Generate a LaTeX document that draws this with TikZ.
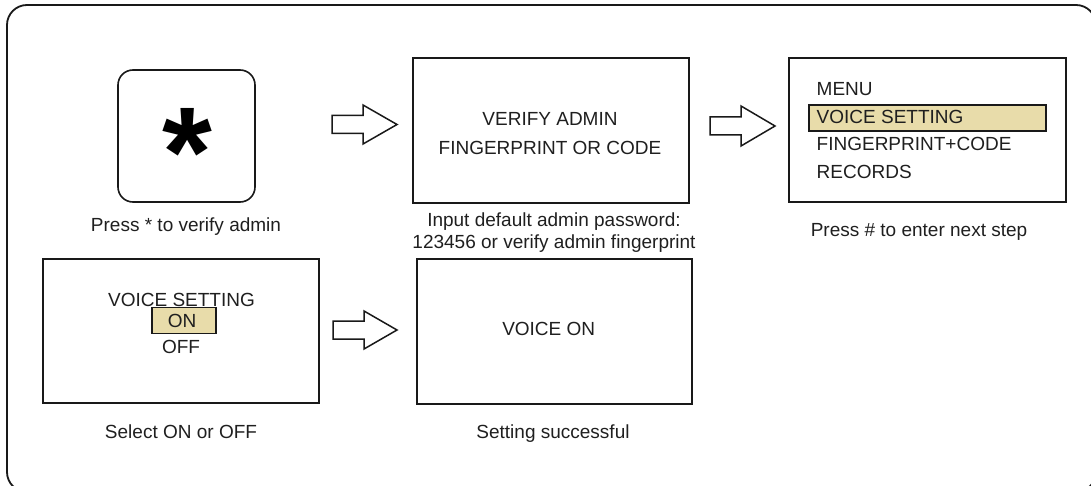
\documentclass[tikz,border=0pt]{standalone}
\usepackage{fontspec}
\setmainfont{Liberation Sans}
\begin{document}
\begin{tikzpicture}[x=1pt,y=-1pt,
  screen/.style={draw=black!90,line width=1.6pt,fill=white,inner sep=0pt},
  keybox/.style={screen,rounded corners=15pt},
  hilite/.style={draw=black!90,line width=1.5pt,fill=hlcol,inner sep=0pt},
  txt/.style={inner sep=0pt,text=black!88,font=\fontsize{19}{22}\selectfont},
  blockarrow/.style={draw=black!90,line width=1.5pt,fill=white,line join=miter}]
\definecolor{hlcol}{RGB}{232,220,170}
\useasboundingbox (0,0) rectangle (1091,486);
\clip (0,0) rectangle (1091,486);
% outer frame
\draw[line width=1.8pt,black!90,rounded corners=20pt] (7,5) rectangle (1096,492);
% boxes
\node[keybox,minimum width=137pt,minimum height=132pt] (key) at (186.5,136) {};
\node[screen,minimum width=276pt,minimum height=145pt] (verify) at (551,130.5) {};
\node[screen,minimum width=277pt,minimum height=144pt] (menu) at (927.5,130) {};
\node[screen,minimum width=276pt,minimum height=144pt] (voice) at (181,331) {};
\node[screen,minimum width=275pt,minimum height=145pt] (done) at (554.5,331.5) {};
% star key
\node[inner sep=0pt,anchor=base,text=black,font=\fontsize{128}{128}\bfseries\selectfont] (star) at (187.5,196.5) {*};
\node[txt,anchor=base] (lkey) at (186,231.7) {Press * to verify admin};
% verify screen
\node[txt,anchor=base] (v1) at (550,126) {VERIFY ADMIN};
\node[txt,anchor=base] (v2) at (550,154.3) {FINGERPRINT OR CODE};
\node[txt,anchor=base] (lv1) at (554,226.7) {Input default admin password:};
\node[txt,anchor=base] (lv2) at (554,248.5) {123456 or verify admin fingerprint};
% menu screen
\node[hilite,minimum width=237pt,minimum height=26pt] (mhl) at (927.5,118) {};
\node[txt,anchor=base west] (m1) at (816.5,96) {MENU};
\node[txt,anchor=base west] (m2) at (816.5,124) {VOICE SETTING};
\node[txt,anchor=base west] (m3) at (816.5,151) {FINGERPRINT+CODE};
\node[txt,anchor=base west] (m4) at (816.5,179) {RECORDS};
\node[txt,anchor=base] (lm) at (919,236.7) {Press \# to enter next step};
% voice setting screen
\node[hilite,minimum width=64pt,minimum height=26pt] (onhl) at (184,320.5) {};
\node[txt,anchor=base] (s1) at (181.5,306) {VOICE SETTING};
\node[txt,anchor=base] (s2) at (182,327.8) {ON};
\node[txt,anchor=base] (s3) at (181,353.3) {OFF};
\node[txt,anchor=base] (ls) at (181,438.3) {Select ON or OFF};
% done screen
\node[txt,anchor=base] (d1) at (548.7,335.7) {VOICE ON};
\node[txt,anchor=base] (ld) at (553,438.3) {Setting successful};
% block arrows
\draw[blockarrow] (332,115.5) -- (363,115.5) -- (363,105) -- (397,124.5) -- (363,144) -- (363,133.5) -- (332,133.5) -- cycle;
\draw[blockarrow] (710,117) -- (741,117) -- (741,106) -- (775,126) -- (741,146) -- (741,135) -- (710,135) -- cycle;
\draw[blockarrow] (333,321) -- (364,321) -- (364,311) -- (397,330) -- (364,349) -- (364,339) -- (333,339) -- cycle;
\end{tikzpicture}
\end{document}
